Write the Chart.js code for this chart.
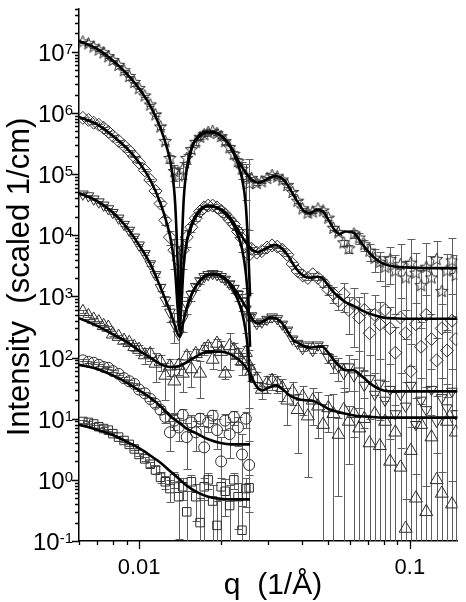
<!DOCTYPE html>
<html>
<head>
<meta charset="utf-8">
<script src="https://cdn.jsdelivr.net/npm/chart.js@4.4.1/dist/chart.umd.min.js"></script>
<style>
  html, body { margin: 0; padding: 0; background: #fff; }
  #wrap { position: relative; width: 466px; height: 602px; }
</style>
</head>
<body>
<div id="wrap"><canvas id="c"></canvas></div>
<script>
/* SAXS intensity vs q, six scaled samples with model fits (log-log) */

// q grids of the measured points (1/Å)
var qLo = [0.0062, 0.0065, 0.0068, 0.0071, 0.0074, 0.0077, 0.0080, 0.0084, 0.0088, 0.0092, 0.0096, 0.0100,
  0.0105, 0.0110, 0.0115, 0.0120, 0.0125, 0.0130, 0.0135, 0.0140, 0.0145, 0.0150, 0.0156, 0.0162, 0.0168,
  0.0174, 0.0180, 0.0187, 0.0194, 0.0201, 0.0208, 0.0216, 0.0224, 0.0232, 0.0240, 0.0248, 0.0255];
var qHi = [0.0260, 0.0272, 0.0284, 0.0297, 0.0310, 0.0324, 0.0338, 0.0353, 0.0369, 0.0385, 0.0402, 0.0420,
  0.0438, 0.0458, 0.0478, 0.0500, 0.0522, 0.0545, 0.0570, 0.0595, 0.0622, 0.0650, 0.0679, 0.0710, 0.0742,
  0.0775, 0.0810, 0.0846, 0.0884, 0.0924, 0.0965, 0.1008, 0.1053, 0.1100, 0.1150, 0.1202, 0.1256, 0.1312,
  0.1371, 0.1432, 0.1480];

// measured intensities (scaled 1/cm)
var starLo = [1.45e7, 1.35e7, 1.2e7, 1.07e7, 9.6e6, 8.3e6, 7.2e6, 6.0e6, 4.9e6, 3.95e6, 3.15e6, 2.5e6, 1.9e6,
  1.35e6, 9.3e5, 5.9e5, 3.4e5, 1.8e5, 1.1e5, 9.3e4, 1.2e5, 1.8e5, 2.5e5, 3.3e5, 4.0e5, 4.4e5, 4.8e5, 5.0e5,
  4.6e5, 4.1e5, 3.4e5, 2.7e5, 2.1e5, 1.6e5, 1.2e5, 9.3e4, 7.0e4];
var starHi = [8.5e4, 7.0e4, 7.5e4, 8.5e4, 9.5e4, 9.0e4, 8.0e4, 6.5e4, 5.0e4, 3.6e4, 2.7e4, 2.3e4, 2.4e4, 2.7e4,
  2.5e4, 1.9e4, 1.3e4, 1.1e4, 7.5e3, 6.0e3, 1.05e4, 9.0e3, 7.0e3, 5.5e3, 4.2e3, 3.6e3, 3.0e3, 4.0e3, 2.6e3,
  3.3e3, 2.0e3, 3.5e3, 2.4e3, 1.5e3, 3.0e3, 2.0e3, 4.0e3, 1.2e3, 2.6e3, 3.8e3, 2.2e3];
var diaLo = [8.3e5, 7.7e5, 6.9e5, 6.4e5, 5.7e5, 4.9e5, 4.2e5, 3.5e5, 2.9e5, 2.4e5, 1.94e5, 1.55e5, 1.15e5,
  8.0e4, 5.3e4, 3.3e4, 1.75e4, 9.3e3, 5.7e3, 3.9e3, 5.7e3, 9.3e3, 1.35e4, 1.9e4, 2.45e4, 2.85e4, 3.05e4,
  3.05e4, 2.85e4, 2.5e4, 2.2e4, 1.8e4, 1.5e4, 1.15e4, 8.9e3, 6.9e3, 4.8e3];
var diaHi = [6.0e3, 5.2e3, 5.5e3, 6.3e3, 6.8e3, 6.5e3, 5.8e3, 4.8e3, 3.4e3, 2.6e3, 2.2e3, 2.0e3, 2.3e3, 2.0e3,
  1.7e3, 1.3e3, 1.1e3, 8.5e2, 1.1e3, 6.0e2, 7.5e2, 4.5e2, 6.0e2, 2.5e2, 5.0e2, 3.5e2, 6.0e2, 3.0e2, 1.2e2,
  4.5e2, 2.5e2, 6.0e1, 3.5e2, 1.5e2, 5.0e2, 2.0e2, 9.0e1, 3.0e2, 1.3e2, 4.0e2, 2.0e2];
var downLo = [4.7e4, 4.4e4, 3.9e4, 3.5e4, 3.1e4, 2.7e4, 2.35e4, 1.9e4, 1.5e4, 1.2e4, 9.3e3, 6.9e3, 5.0e3,
  3.4e3, 2.26e3, 1.4e3, 8.6e2, 5.5e2, 3.5e2, 2.4e2, 4.3e2, 7.4e2, 1.07e3, 1.45e3, 1.8e3, 2.1e3, 2.26e3,
  2.35e3, 2.26e3, 2.1e3, 1.9e3, 1.6e3, 1.35e3, 1.07e3, 8.3e2, 6.2e2, 4.6e2];
var downHi = [4.8e2, 3.6e2, 3.8e2, 4.2e2, 4.6e2, 4.3e2, 3.5e2, 2.8e2, 2.0e2, 1.7e2, 1.4e2, 1.6e2, 1.3e2, 1.6e2,
  1.4e2, 1.0e2, 8.0e1, 7.0e1, 5.5e1, 7.0e1, 5.0e1, 6.0e1, 3.5e1, 4.5e1, 2.5e1, 3.8e1, 2.0e1, 3.0e1, 1.2e1,
  2.5e1, 1.6e1, 3.5e1, 8.0, 2.0e1, 1.4e1, 3.0e1, 9.0, 2.2e1, 1.5e1, 2.8e1, 1.2e1];
var upLo = [5.6e2, 4.8e2, 4.2e2, 3.8e2, 3.3e2, 3.1e2, 2.4e2, 2.2e2, 1.9e2, 1.75e2, 1.5e2, 1.35e2, 1.1e2, 1.15e2,
  8.0e1, 8.6e1, 5.1e1, 7.2e1, 4.1e1, 7.4e1, 5.5e1, 1.05e2, 6.5e1, 1.15e2, 5.5e1, 1.35e2, 1.5e2, 9.3e1, 1.7e2,
  1.25e2, 5.5e1, 1.55e2, 1.35e2, 1.1e2, 8.6e1, 1.2e2, 7.4e1];
var upHi = [6.0e1, 4.5e1, 3.0e1, 3.8e1, 4.2e1, 3.8e1, 3.2e1, 2.0e1, 2.8e1, 1.4e1, 2.3e1, 1.1e1, 2.0e1, 1.6e1,
  8.0, 1.5e1, 1.2e1, 5.5, 1.4e1, 9.0, 1.2e1, 7.0, 1.0e1, 4.0, 1.2e1, 3.6, 9.0, 2.0, 6.0, 1.6, 0.16, 3.0, 0.5,
  8.0, 0.3, 5.0, 1.0, 0.6, 9.0, 0.4, 6.0];
var circLo = [9.0e1, 8.5e1, 8.2e1, 7.6e1, 7.0e1, 6.8e1, 6.0e1, 5.4e1, 4.6e1, 4.1e1, 3.7e1, 3.0e1, 2.6e1, 2.1e1,
  1.75e1, 1.4e1, 1.07e1, 6.0, 9.3, 7.2, 1.15e1, 5.0, 8.7, 6.0, 1.0e1, 3.4, 8.7, 1.12e1, 6.5, 2.0, 9.3, 5.6,
  1.07e1, 7.2, 2.6, 1.0e1, 1.75];
var sqLo = [9.0, 8.7, 8.2, 7.4, 6.9, 6.5, 5.7, 5.0, 4.4, 3.8, 3.2, 2.6, 2.2, 1.8, 1.45, 1.1, 0.93, 0.72, 1.05,
  0.53, 0.77, 0.3, 0.93, 0.53, 0.2, 0.77, 1.0, 0.45, 0.18, 0.77, 0.65, 0.38, 1.0, 0.53, 0.15, 0.72, 0.74];

// relative errors of the measured points
var starErrLo = [.03, .03, .03, .03, .03, .03, .03, .03, .03, .03, .03, .03, .04, .05, .06, .08, .1, .15, .3, .35,
  .3, .2, .12, .08, .06, .05, .05, .05, .05, .06, .08, .1, .12, .15, .3, .6, 1.5];
var starErrHi = [.05, .05, .05, .05, .05, .05, .05, .05, .05, .05, .05, .05, .05, .05, .05, .05, .08, .1, .12, .15,
  .15, .2, .2, .3, .4, .5, .5, .6, .8, 1.2, .9, 1.5, 1.1, .8, 1.5, 1.3, 1.0, 1.5, .9, 1.4, 1.2];
var diaErrLo = [.03, .03, .03, .03, .03, .03, .03, .03, .03, .03, .03, .03, .04, .05, .06, .1, .15, .25, .5, .7,
  .5, .3, .15, .1, .08, .06, .05, .05, .05, .06, .08, .1, .12, .2, .4, .8, 1.5];
var diaErrHi = [.06, .06, .06, .06, .06, .06, .06, .06, .06, .06, .06, .06, .06, .06, .15, .2, .3, .3, .5, .6,
  .8, 1.2, .9, 1.5, 1.1, 1.3, 1.5, 1.2, 1.6, 1.1, 1.4, 1.8, 1.2, 1.5, 1.1, 1.6, 1.3, 1.5, 1.2, 1.7, 1.4];
var downErrLo = [.04, .04, .04, .04, .04, .04, .04, .04, .04, .04, .04, .04, .05, .06, .08, .12, .2, .3, .5, .6,
  .4, .3, .2, .12, .1, .08, .08, .08, .08, .08, .1, .12, .15, .2, .3, .6, 1.5];
var downErrHi = [.08, .08, .08, .08, .08, .08, .08, .08, .08, .08, .08, .08, .08, .08, .15, .2, .3, .4, .5, .6,
  .9, 1.1, .8, 1.4, 1.2, 1.5, 1.1, 1.6, 1.3, 1.2, 1.5, 1.1, 1.7, 1.3, 1.4, 1.2, 1.6, 1.1, 1.5, 1.3, 1.4];
var upErrLo = [.05, .05, .05, .05, .05, .05, .05, .05, .1, .1, .15, .2, .3, .25, .5, .3, .6, .3, .7, .3, .5, .2,
  .5, .2, .6, .2, .2, .3, .2, .5, .2, .6, .3, .3, .4, .3, .8];
var upErrHi = [.3, .3, .3, .3, .3, .3, .4, .6, .4, .8, .5, .9, .6, .7, 1.2, .6, 1.1, .9, 1.3, .8, 1.4, 1.1, 1.2,
  1.5, 1.0, 1.6, 1.2, 1.3, 1.8, 1.1, 2.0, 1.4, 1.5, 1.2, 1.6, 1.3, 1.7, 1.2, 1.5, 1.4, 1.3];
var circErrLo = [.04, .04, .04, .04, .04, .04, .04, .04, .04, .04, .04, .04, .06, .08, .1, .15, .2, .5, .3, .4,
  .25, .7, .3, .5, .25, 1.2, .3, .25, .5, 1.5, .3, .6, .25, .5, 1.2, .3, 1.5];
var sqErrLo = [.05, .05, .05, .05, .05, .05, .05, .05, .05, .05, .05, .06, .08, .1, .15, .2, .25, .4, .3, .8, .4,
  1.2, .3, .6, 1.5, .4, .3, .8, 1.5, .4, .6, 1.2, .3, .7, 1.5, .5, .6];

// model fits: low-q branch (deep minima), high-q branch, single fits for the lower samples
var fitLoQ = [0.0060, 0.0070, 0.0080, 0.0090, 0.0100, 0.0110, 0.0120, 0.0127, 0.0132, 0.0136, 0.0139, 0.0141,
  0.0143, 0.0146, 0.0150, 0.0156, 0.0165, 0.0177, 0.0190, 0.0205, 0.0218, 0.0230, 0.0240, 0.0248, 0.0253, 0.0257];
var starFitLo = [1.5e7, 1.12e7, 7.2e6, 4.4e6, 2.5e6, 1.3e6, 5.6e5, 2.6e5, 1.2e5, 3.2e4, 3.0e3, 3.5e2, 3.0e3,
  3.5e4, 1.2e5, 2.6e5, 4.1e5, 4.9e5, 4.8e5, 3.9e5, 2.7e5, 1.6e5, 8.5e4, 3.0e4, 6.0e3, 1.0e3];
var diaFitLo = [8.6e5, 6.5e5, 4.2e5, 2.65e5, 1.55e5, 8.0e4, 3.3e4, 1.5e4, 7.0e3, 2.5e3, 6.0e2, 2.8e2, 6.0e2,
  3.0e3, 8.0e3, 1.5e4, 2.4e4, 3.0e4, 2.9e4, 2.4e4, 1.75e4, 1.1e4, 6.0e3, 2.4e3, 8.0e2, 1.5e2];
var downFitLo = [4.9e4, 3.6e4, 2.35e4, 1.35e4, 6.9e3, 3.4e3, 1.4e3, 7.5e2, 4.8e2, 3.2e2, 2.4e2, 2.2e2, 2.6e2,
  4.0e2, 6.5e2, 1.05e3, 1.65e3, 2.2e3, 2.3e3, 2.0e3, 1.5e3, 9.5e2, 5.5e2, 2.6e2, 1.2e2, 4.0e1];

var fitHiQ = [0.0150, 0.0158, 0.0168, 0.0180, 0.0192, 0.0205, 0.0218, 0.0230, 0.0240, 0.0250, 0.0262, 0.0275,
  0.0290, 0.0305, 0.0320, 0.0338, 0.0355, 0.0372, 0.0390, 0.0410, 0.0430, 0.0452, 0.0475, 0.0500, 0.0525,
  0.0550, 0.0580, 0.0620, 0.0670, 0.0730, 0.0800, 0.0900, 0.1000, 0.1150, 0.1300, 0.1500];
var starFitHi = [1.2e5, 3.0e5, 4.2e5, 4.9e5, 4.8e5, 3.9e5, 2.8e5, 1.8e5, 1.3e5, 1.0e5, 8.0e4, 7.2e4, 7.8e4,
  8.8e4, 9.3e4, 8.5e4, 6.5e4, 4.5e4, 3.2e4, 2.4e4, 2.3e4, 2.6e4, 2.5e4, 1.8e4, 1.25e4, 1.05e4, 1.15e4, 1.1e4,
  7.0e3, 4.5e3, 3.4e3, 3.05e3, 2.95e3, 2.9e3, 2.9e3, 2.9e3];
var diaFitHi = [8.0e3, 1.6e4, 2.5e4, 3.0e4, 2.9e4, 2.5e4, 1.9e4, 1.3e4, 9.5e3, 7.3e3, 5.8e3, 5.3e3, 5.9e3,
  6.6e3, 6.9e3, 6.0e3, 4.6e3, 3.3e3, 2.5e3, 2.1e3, 2.0e3, 2.1e3, 2.0e3, 1.5e3, 1.15e3, 9.5e2, 8.0e2, 7.0e2,
  5.8e2, 5.0e2, 4.5e2, 4.35e2, 4.3e2, 4.3e2, 4.3e2, 4.3e2];
var downFitHi = [6.5e2, 1.2e3, 1.8e3, 2.25e3, 2.3e3, 2.05e3, 1.6e3, 1.15e3, 8.5e2, 6.3e2, 4.2e2, 3.6e2, 4.0e2,
  4.5e2, 4.4e2, 3.6e2, 2.6e2, 1.9e2, 1.7e2, 1.5e2, 1.45e2, 1.5e2, 1.5e2, 1.2e2, 9.0e1, 7.2e1, 6.2e1, 6.2e1,
  4.8e1, 3.5e1, 2.9e1, 2.8e1, 2.8e1, 2.8e1, 2.8e1, 2.8e1];

var upFitQ = [0.0060, 0.0070, 0.0080, 0.0090, 0.0100, 0.0110, 0.0120, 0.0130, 0.0140, 0.0150, 0.0160, 0.0170,
  0.0180, 0.0190, 0.0200, 0.0215, 0.0230, 0.0245, 0.0258, 0.0270, 0.0285, 0.0300, 0.0320, 0.0340, 0.0360,
  0.0385, 0.0410, 0.0440, 0.0470, 0.0500, 0.0540, 0.0580, 0.0630, 0.0700, 0.0800, 0.0950, 0.1150, 0.1500];
var upFit = [4.4e2, 3.3e2, 2.4e2, 1.8e2, 1.3e2, 1.0e2, 7.8e1, 7.0e1, 7.2e1, 8.4e1, 1.0e2, 1.16e2, 1.25e2, 1.25e2,
  1.25e2, 1.16e2, 9.7e1, 7.4e1, 5.3e1, 3.5e1, 2.9e1, 3.2e1, 3.5e1, 3.0e1, 2.4e1, 2.1e1, 2.0e1, 1.95e1, 1.7e1,
  1.45e1, 1.3e1, 1.2e1, 1.12e1, 1.08e1, 1.04e1, 1.04e1, 1.04e1, 1.04e1];

var smallFitQ = [0.0060, 0.0070, 0.0080, 0.0090, 0.0100, 0.0110, 0.0120, 0.0130, 0.0140, 0.0150, 0.0165, 0.0180,
  0.0200, 0.0220, 0.0240, 0.0257];
var circFit = [7.6e1, 6.5e1, 5.1e1, 3.9e1, 2.9e1, 2.2e1, 1.6e1, 1.12e1, 8.7, 6.9, 5.6, 4.6, 4.0, 3.8, 3.8, 3.8];
var sqFit = [8.0, 6.6, 5.4, 4.2, 3.3, 2.5, 1.9, 1.4, 1.05, 0.8, 0.62, 0.53, 0.49, 0.48, 0.48, 0.48];

// axes
var Q_MIN = 0.006, Q_MAX = 0.15, I_MIN = 0.1, I_MAX = 5.1e7;
var yExps = [-1, 0, 1, 2, 3, 4, 5, 6, 7];
var xMinorTicks = [0.006, 0.007, 0.008, 0.009, 0.02, 0.03, 0.04, 0.05, 0.06, 0.07, 0.08, 0.09];
var xMajorTicks = [0.01, 0.1];
var xTickLabels = ['0.01', '0.1'];
var FONT = "'Liberation Sans', Arial, Helvetica, sans-serif";

function pts(qs, vs) { return qs.map(function (q, i) { return { x: q, y: vs[i] }; }); }

function starImage(r) {
  var s = Math.ceil(r * 2 + 2), c = document.createElement('canvas');
  c.width = c.height = s;
  var g = c.getContext('2d');
  g.strokeStyle = '#2e2e2e'; g.lineWidth = 1;
  g.beginPath();
  for (var i = 0; i < 10; i++) {
    var a = -Math.PI / 2 + i * Math.PI / 5, rr = i % 2 ? r * 0.42 : r;
    g.lineTo(s / 2 + rr * Math.cos(a), s / 2 + rr * Math.sin(a));
  }
  g.closePath(); g.stroke();
  return c;
}

function markers(qs, vs, errs, style, radius, rot) {
  return { type: 'scatter', data: pts(qs, vs), err: errs, pointStyle: style, pointRadius: radius,
    rotation: rot || 0, borderColor: '#2e2e2e', backgroundColor: 'rgba(0,0,0,0)', borderWidth: 1, order: 2 };
}
function fit(qs, vs) {
  return { type: 'scatter', showLine: true, data: pts(qs, vs), borderColor: '#000', borderWidth: 2.6,
    pointRadius: 0, cubicInterpolationMode: 'monotone', order: 0 };
}

// error bars under the markers
var errorBars = {
  id: 'errorBars',
  beforeDatasetsDraw: function (chart) {
    var ctx = chart.ctx, ys = chart.scales.y, a = chart.chartArea;
    ctx.save();
    ctx.beginPath(); ctx.rect(a.left, a.top, a.right - a.left, a.bottom - a.top); ctx.clip();
    ctx.strokeStyle = '#5e5e5e'; ctx.lineWidth = 1;
    chart.data.datasets.forEach(function (ds, i) {
      if (!ds.err) return;
      chart.getDatasetMeta(i).data.forEach(function (pt, j) {
        var v = ds.data[j].y, e = v * ds.err[j];
        var x = Math.round(pt.x) + 0.5;
        var top = Math.round(ys.getPixelForValue(v + e)) + 0.5;
        var low = v - e > ys.min ? Math.round(ys.getPixelForValue(v - e)) + 0.5 : a.bottom;
        ctx.beginPath();
        ctx.moveTo(x, top); ctx.lineTo(x, low);
        ctx.moveTo(x - 4, top); ctx.lineTo(x + 4, top);
        if (low < a.bottom) { ctx.moveTo(x - 4, low); ctx.lineTo(x + 4, low); }
        ctx.stroke();
      });
    });
    ctx.restore();
  }
};

// tick marks, labels and titles
var axisDecor = {
  id: 'axisDecor',
  afterDraw: function (chart) {
    var ctx = chart.ctx, xs = chart.scales.x, ys = chart.scales.y, a = chart.chartArea;
    ctx.save();
    ctx.strokeStyle = '#000'; ctx.fillStyle = '#000'; ctx.lineWidth = 1.3;
    ctx.beginPath();
    yExps.forEach(function (e) {
      for (var k = 1; k < 10; k++) {
        var v = k * Math.pow(10, e);
        if (v < ys.min || v > ys.max) continue;
        var y = Math.round(ys.getPixelForValue(v)) + 0.5;
        ctx.moveTo(a.left, y); ctx.lineTo(a.left - (k === 1 ? 7 : 4), y);
      }
    });
    xMinorTicks.forEach(function (q) {
      var x = Math.round(xs.getPixelForValue(q)) + 0.5;
      ctx.moveTo(x, a.bottom); ctx.lineTo(x, a.bottom + 4);
    });
    xMajorTicks.forEach(function (q) {
      var x = Math.round(xs.getPixelForValue(q)) + 0.5;
      ctx.moveTo(x, a.bottom); ctx.lineTo(x, a.bottom + 8);
    });
    ctx.stroke();

    // y labels: 10 with superscript exponent
    ctx.textBaseline = 'alphabetic'; ctx.textAlign = 'right';
    yExps.forEach(function (e) {
      var y = ys.getPixelForValue(Math.pow(10, e));
      ctx.font = '15px ' + FONT;
      var ex = String(e);
      var w = ctx.measureText(ex).width;
      ctx.fillText(ex, 73, y + 2);
      ctx.font = '24px ' + FONT;
      ctx.fillText('10', 73 - w, y + 9);
    });

    // x labels
    ctx.textAlign = 'center'; ctx.font = '22px ' + FONT;
    xMajorTicks.forEach(function (q, i) {
      ctx.fillText(xTickLabels[i], xs.getPixelForValue(q), 574);
    });

    // titles
    ctx.font = '30px ' + FONT;
    ctx.fillText('q  (1/\u00c5)', 273, 594);
    ctx.font = '31px ' + FONT;
    ctx.translate(29, 277); ctx.rotate(-Math.PI / 2);
    ctx.fillText('Intensity  (scaled 1/cm)', 0, 0);
    ctx.restore();
  }
};

var starImg = starImage(6.5);

new Chart(document.getElementById('c'), {
  type: 'scatter',
  data: {
    datasets: [
      fit(fitLoQ, starFitLo), fit(fitHiQ, starFitHi),
      fit(fitLoQ, diaFitLo), fit(fitHiQ, diaFitHi),
      fit(fitLoQ, downFitLo), fit(fitHiQ, downFitHi),
      fit(upFitQ, upFit), fit(smallFitQ, circFit), fit(smallFitQ, sqFit),
      markers(qLo.concat(qHi), starLo.concat(starHi), starErrLo.concat(starErrHi), starImg, 6.5),
      markers(qLo.concat(qHi), diaLo.concat(diaHi), diaErrLo.concat(diaErrHi), 'rectRot', 6.5),
      markers(qLo.concat(qHi), downLo.concat(downHi), downErrLo.concat(downErrHi), 'triangle', 6.2, 180),
      markers(qLo.concat(qHi), upLo.concat(upHi), upErrLo.concat(upErrHi), 'triangle', 7.5),
      markers(qLo, circLo, circErrLo, 'circle', 5.5),
      markers(qLo, sqLo, sqErrLo, 'rect', 6)
    ]
  },
  options: {
    responsive: true, maintainAspectRatio: false, animation: false, devicePixelRatio: 1,
    layout: { padding: { left: 0, right: 2, top: 0, bottom: 0 } },
    plugins: { legend: { display: false }, tooltip: { enabled: false } },
    scales: {
      x: {
        type: 'logarithmic', min: Q_MIN, max: Q_MAX,
        ticks: { display: false }, grid: { display: false },
        border: { display: true, color: '#000', width: 1.5 },
        afterFit: function (s) { s.height = 61; }
      },
      y: {
        type: 'logarithmic', min: I_MIN, max: I_MAX,
        ticks: { display: false }, grid: { display: false },
        border: { display: true, color: '#000', width: 1.5 },
        afterFit: function (s) { s.width = 79; }
      }
    }
  },
  plugins: [errorBars, axisDecor]
});
</script>
</body>
</html>
